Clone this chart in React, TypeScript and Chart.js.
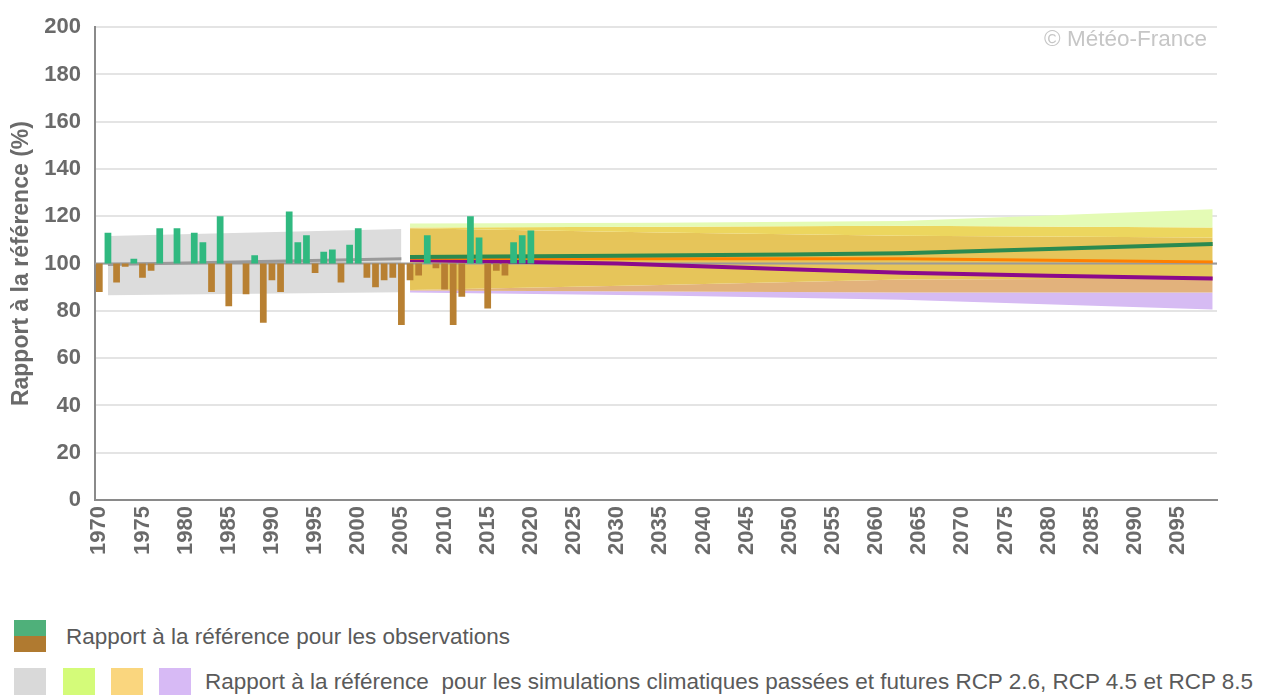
import React, { useEffect, useRef } from "react";
import { Chart, registerables } from "chart.js";

Chart.register(...registerables);

// ---- Observations (ratio to reference, %) ----
const obsYears = [
  1970, 1971, 1972, 1973, 1974, 1975, 1976, 1977, 1978, 1979,
  1980, 1981, 1982, 1983, 1984, 1985, 1986, 1987, 1988, 1989,
  1990, 1991, 1992, 1993, 1994, 1995, 1996, 1997, 1998, 1999,
  2000, 2001, 2002, 2003, 2004, 2005, 2006, 2007, 2008, 2009,
  2010, 2011, 2012, 2013, 2014, 2015, 2016, 2017, 2018, 2019, 2020,
];
const obsValues = [
  88, 113, 92, 98.7, 102, 94, 97, 115, 100, 115,
  100, 113, 109, 88, 120, 82, 100, 87, 103.5, 75,
  93, 88, 122, 109, 112, 96, 105, 106, 92, 108,
  115, 94, 90, 93, 94, 74, 93, 95, 112, 98,
  89, 74, 86, 120, 111, 81, 97, 95, 109, 112, 114,
];

// ---- Past simulations (grey band + median) ----
const histYears = [1971, 2005];
const histMax = [111.7, 114.6];
const histMin = [86.6, 87.9];
const histMedian = [99.6, 102.0];

// ---- Future simulations: band envelopes ----
const projYears = [2006, 2035, 2063, 2099];
const rcp26Max = [117.0, 117.3, 118.0, 123.0];
const rcp45Max = [115.3, 115.6, 116.0, 115.3];
const rcp85Max = [115.0, 113.2, 111.8, 111.0];
const rcp26Min = [88.8, 91.0, 93.3, 93.7];
const rcp45Min = [88.6, 88.2, 87.8, 87.8];
const rcp85Min = [87.8, 86.5, 84.7, 80.6];

// ---- Future simulations: medians ----
const medYears = [2006, 2030, 2050, 2063, 2080, 2099];
const rcp26Median = [102.8, 103.3, 103.8, 104.4, 106.2, 108.3];
const rcp45Median = [102.3, 102.1, 102.0, 102.0, 101.4, 100.7];
const rcp85Median = [101.5, 100.0, 97.6, 96.1, 94.9, 93.7];

// ---- Reference line ----
const refYears = [1969.5, 2099.5];
const refValues = [100, 100];

const tickYears = [
  1970, 1975, 1980, 1985, 1990, 1995, 2000, 2005, 2010, 2015, 2020, 2025, 2030,
  2035, 2040, 2045, 2050, 2055, 2060, 2065, 2070, 2075, 2080, 2085, 2090, 2095,
];

const FONT = "'Liberation Sans', Arial, sans-serif";
const GREEN_BAR = "#30b980";
const BROWN_BAR = "#b88032";

const pts = (xs: number[], ys: number[]) => xs.map((x, i) => ({ x, y: ys[i] }));

const boundary = (xs: number[], ys: number[], target: number | false, color: string) => ({
  type: "line" as const,
  data: pts(xs, ys),
  borderWidth: 0,
  pointRadius: 0,
  fill: target === false ? false : { target },
  backgroundColor: color,
  borderColor: "rgba(0,0,0,0)",
  order: 10,
});

const copyrightPlugin = {
  id: "copyright",
  afterDraw(chart: any) {
    const { ctx, chartArea } = chart;
    ctx.save();
    ctx.font = `22.5px ${FONT}`;
    ctx.fillStyle = "#c6c6c6";
    ctx.textAlign = "right";
    ctx.textBaseline = "middle";
    ctx.fillText("© Météo-France", chartArea.right - 10, 40);
    ctx.restore();
  },
};

function ChartView() {
  const ref = useRef<HTMLCanvasElement | null>(null);
  useEffect(() => {
    if (!ref.current) return;
    const chart = new Chart(ref.current, {
      type: "line",
      data: {
        datasets: [
          {
            type: "bar",
            data: obsYears.map((x, i) => ({ x, y: [100, obsValues[i]] })) as any,
            backgroundColor: obsValues.map((v) => (v >= 100 ? GREEN_BAR : BROWN_BAR)),
            borderWidth: 0,
            barPercentage: 0.78,
            categoryPercentage: 1,
            grouped: false,
            order: 0,
          } as any,
          {
            type: "line",
            data: pts(medYears, rcp26Median),
            borderColor: "#2b8a50",
            borderWidth: 4,
            pointRadius: 0,
            fill: false,
            order: 1,
          },
          {
            type: "line",
            data: pts(medYears, rcp45Median),
            borderColor: "#ff8000",
            borderWidth: 3,
            pointRadius: 0,
            fill: false,
            order: 2,
          },
          {
            type: "line",
            data: pts(medYears, rcp85Median),
            borderColor: "#8b0a8b",
            borderWidth: 4,
            pointRadius: 0,
            fill: false,
            order: 3,
          },
          {
            type: "line",
            data: pts(histYears, histMedian),
            borderColor: "#9a9a9a",
            borderWidth: 3,
            pointRadius: 0,
            fill: false,
            order: 4,
          },
          {
            type: "line",
            data: pts(refYears, refValues),
            borderColor: "#9a9a9a",
            borderWidth: 2,
            pointRadius: 0,
            fill: false,
            order: 5,
          },
          boundary(projYears, rcp26Max, 7, "#e4fbb5"),
          boundary(projYears, rcp45Max, 8, "#ecd65e"),
          boundary(projYears, rcp85Max, 9, "#e6c55a"),
          boundary(projYears, rcp26Min, 10, "#e2b27c"),
          boundary(projYears, rcp45Min, 11, "#d6bbf3"),
          boundary(projYears, rcp85Min, false, "#d6bbf3"),
          boundary(histYears, histMax, 13, "#dcdcdc"),
          boundary(histYears, histMin, false, "#dcdcdc"),
        ] as any,
      },
      options: {
        animation: false,
        responsive: false,
        maintainAspectRatio: false,
        layout: { padding: { top: 20, right: 51, left: 0, bottom: 0 } },
        plugins: {
          legend: { display: false },
          tooltip: { enabled: false },
        },
        scales: {
          x: {
            type: "linear",
            min: 1969.5,
            max: 2099.5,
            offset: false,
            grid: { display: false, drawTicks: false },
            border: { display: true, color: "#8a8a8a", width: 2 },
            ticks: {
              autoSkip: false,
              maxRotation: 90,
              minRotation: 90,
              padding: 6,
              color: "#6a6a6a",
              font: { family: FONT, size: 22, weight: "bold" },
              callback: (v: any) => String(v),
            },
            afterBuildTicks: (scale: any) => {
              scale.ticks = tickYears.map((value) => ({ value }));
            },
            afterFit: (scale: any) => {
              scale.height = 70;
            },
          },
          y: {
            min: 0,
            max: 200,
            grid: { color: "#e4e4e4", lineWidth: 2, drawTicks: false },
            border: { display: true, color: "#8a8a8a", width: 2 },
            ticks: {
              stepSize: 20,
              padding: 14,
              color: "#6a6a6a",
              font: { family: FONT, size: 22, weight: "bold" },
            },
            title: {
              display: true,
              text: "Rapport à la référence (%)",
              color: "#6a6a6a",
              font: { family: FONT, size: 23, weight: "bold" },
              padding: { top: 8, bottom: 0 },
            },
            afterFit: (scale: any) => {
              scale.width = 95;
            },
          },
        },
      } as any,
      plugins: [copyrightPlugin],
    });
    return () => chart.destroy();
  }, []);
  return <canvas ref={ref} width={1268} height={570} style={{ display: "block" }} />;
}

const legendText: React.CSSProperties = {
  position: "absolute",
  fontFamily: FONT,
  fontSize: 22.5,
  color: "#5a5a5a",
  whiteSpace: "pre",
  lineHeight: "26px",
};

export default function App() {
  return (
    <div
      style={{
        position: "absolute",
        left: 0,
        top: 0,
        width: 1268,
        height: 695,
        background: "#ffffff",
        overflow: "hidden",
      }}
    >
      <ChartView />
      <div style={{ position: "absolute", left: 14, top: 620, width: 32, height: 16, background: "#4fb07a" }} />
      <div style={{ position: "absolute", left: 14, top: 636, width: 32, height: 16, background: "#b07a30" }} />
      <div style={{ ...legendText, left: 66, top: 624 }}>Rapport à la référence pour les observations</div>
      <div style={{ position: "absolute", left: 14, top: 668, width: 32, height: 27, background: "#d9d9d9" }} />
      <div style={{ position: "absolute", left: 63, top: 668, width: 32, height: 27, background: "#d4fb79" }} />
      <div style={{ position: "absolute", left: 111, top: 668, width: 32, height: 27, background: "#fad67e" }} />
      <div style={{ position: "absolute", left: 159, top: 668, width: 32, height: 27, background: "#d7baf5" }} />
      <div style={{ ...legendText, left: 205, top: 669 }}>
        {"Rapport à la référence  pour les simulations climatiques passées et futures RCP 2.6, RCP 4.5 et RCP 8.5"}
      </div>
    </div>
  );
}
